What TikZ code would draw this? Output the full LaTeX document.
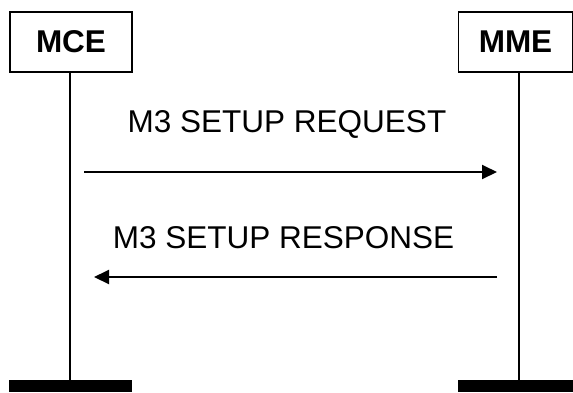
\documentclass[tikz,border=0pt]{standalone}
\usepackage{fontspec}
\setmainfont{Liberation Sans}
\usetikzlibrary{arrows.meta}
\begin{document}
\begin{tikzpicture}[x=1pt,y=-1pt,
  entity/.style={draw,line width=1.5pt,fill=white,minimum width=122pt,minimum height=60pt,inner sep=0pt,font=\fontsize{31.5}{36}\selectfont\bfseries},
  lifeline/.style={line width=1.5pt},
  msg/.style={line width=2pt,-{Triangle[length=15pt,width=14pt]}},
  lbl/.style={font=\fontsize{31.5}{36}\selectfont,inner sep=0pt},
  bar/.style={fill=black,draw=none}]
\useasboundingbox (0,0) rectangle (573,392);
\node[entity,minimum width=122pt] (mce) at (71,42) {MCE};
\node[entity,minimum width=114pt] (mme) at (515.5,42) {MME};
\coordinate (mcetop) at (70,72);
\coordinate (mmetop) at (519,72);
\coordinate (mcebot) at (70,380);
\coordinate (mmebot) at (519,380);
\draw[lifeline] (mcetop) -- (mcebot);
\draw[lifeline] (mmetop) -- (mmebot);
\fill[bar] (9,379.5) rectangle (131.5,392);
\fill[bar] (458,379.5) rectangle (573,392);
\coordinate (a1s) at (84,172);
\coordinate (a1e) at (497,172);
\coordinate (a2s) at (497,277);
\coordinate (a2e) at (94,277);
\draw[msg] (a1s) -- (a1e);
\draw[msg] (a2s) -- (a2e);
\node[lbl] (l1) at (287,124) {M3 SETUP REQUEST};
\node[lbl] (l2) at (283.5,237.5) {M3 SETUP RESPONSE};
\end{tikzpicture}
\end{document}
